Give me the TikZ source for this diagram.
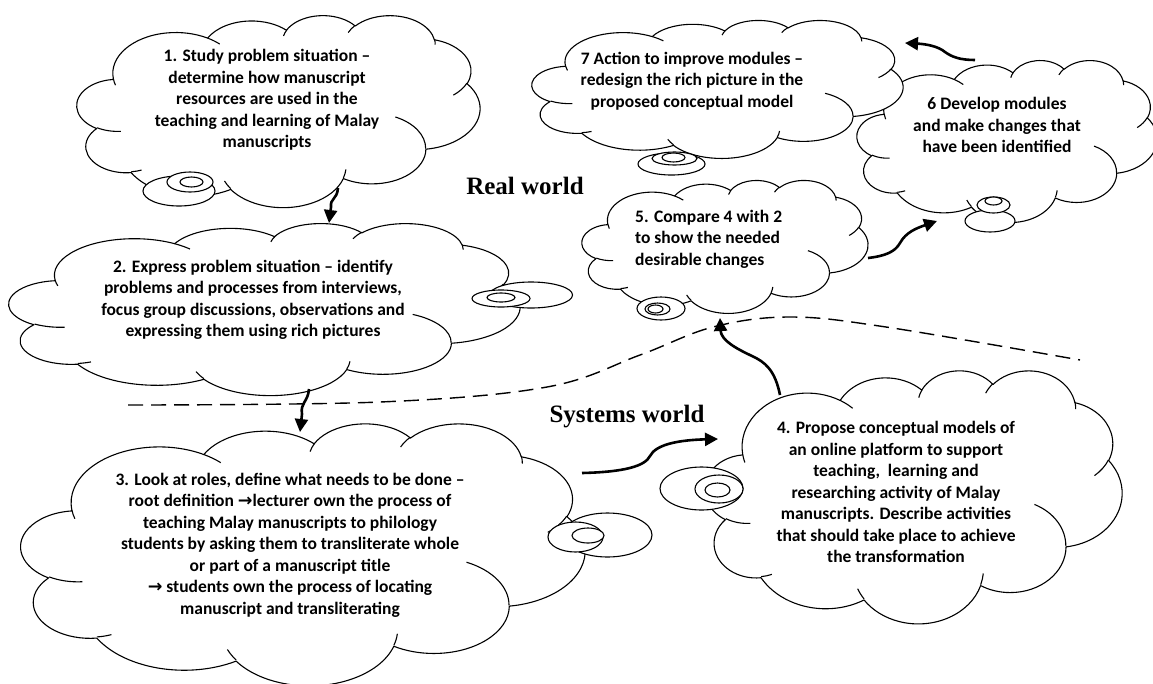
\documentclass[tikz,border=0pt]{standalone}
\usepackage{fontspec}
\setmainfont{Carlito}
\newfontfamily\labfont{Liberation Serif}
\newfontfamily\arrfont{DejaVu Sans}
\usetikzlibrary{arrows.meta}

\newcommand\cloudcalc[4]{%
  \pgfmathparse{atan2((#1)*sin(#3),(#2)*cos(#3))}\xdef\cldA{\pgfmathresult}%
  \pgfmathparse{atan2((#1)*sin(#3+#4),(#2)*cos(#3+#4))}\xdef\cldB{\pgfmathresult}%
  \pgfmathparse{\cldB-\cldA}\xdef\cldD{\pgfmathresult}%
  \pgfmathparse{\cldD<0 ? \cldD+360 : \cldD}\xdef\cldD{\pgfmathresult}}
\newcommand\carc[4]{\pgfextra{\cloudcalc{#1}{#2}{#3}{#4}} arc[start angle=\cldA, delta angle=\cldD, x radius=#1, y radius=#2]}
\newcommand\iarc[6]{\cloudcalc{#3}{#4}{#5}{#6}%
  \draw[innerline] (#1,#2) arc[start angle=\cldA, delta angle=\cldD, x radius=#3, y radius=#4];}

\newcommand\wcloud[4]{%
  \pgfmathsetmacro\cwx{#3/4320}%
  \pgfmathsetmacro\cwy{#4/4320}%
  \begin{scope}[shift={(#1,#2)},x=\cwx pt,y=-\cwy pt]
    \path[cloudline,fill=white] (390,1437)
      \carc{675.3}{919.0}{-190.4875}{123.7805}
      \carc{533.3}{726.7}{-144.1024}{89.9452}
      \carc{436.5}{594.5}{-145.8079}{99.7230}
      \carc{485.7}{659.5}{-130.9861}{117.2417}
      \carc{533.3}{727.3}{-78.7089}{109.0269}
      \carc{677.5}{922.0}{-46.2673}{130.2690}
      \carc{578.5}{786.7}{0.6250}{114.0333}
      \carc{675.2}{921.5}{22.4516}{115.1726}
      \carc{772.0}{1054.3}{66.2426}{75.7110}
      \carc{436.0}{591.8}{-274.9421}{146.7356}
      \carc{434.5}{594.5}{-246.8285}{152.5189}
      -- cycle;
    \iarc{469.3}{2617.7}{434.5}{594.5}{86.7420}{26.4295}
    \iarc{692.8}{3489.9}{436.0}{591.8}{73.6105}{11.4475}
    \iarc{1647.8}{3909.0}{675.2}{921.5}{137.6242}{14.0811}
    \iarc{2882.7}{3475.1}{675.2}{921.5}{6.4533}{15.9984}
    \iarc{3412.9}{2295.4}{578.5}{786.7}{-70.2924}{70.9174}
    \iarc{4179.8}{1535.4}{533.3}{727.3}{30.3180}{27.7515}
    \iarc{3832.4}{542.6}{485.7}{659.5}{-13.7443}{14.8589}
    \iarc{2907.8}{395.2}{485.7}{659.5}{-149.1815}{18.1954}
    \iarc{2214.1}{472.0}{436.5}{594.5}{-163.4943}{17.6864}
    \iarc{1400.0}{519.2}{675.3}{919.0}{-66.7070}{12.3194}
    \iarc{412.7}{1578.9}{675.3}{919.0}{157.6544}{11.8582}
  \end{scope}}

\begin{document}
\begin{tikzpicture}[x=1pt,y=-1pt,
  cloudline/.style={draw=black,line width=1.1pt,line join=round},
  innerline/.style={draw=black,line width=1.1pt},
  bub/.style={draw=black,line width=1.1pt,fill=white},
  flow/.style={draw=black,line width=2.6pt,-{Triangle[length=13pt,width=13pt]}},
  divider/.style={draw=black,line width=1.4pt,dash pattern=on 15pt off 8pt},
  txt/.style={font=\bfseries\fontsize{17.5}{21.5}\selectfont,align=center,inner sep=0pt},
  lab/.style={font=\labfont\bfseries\fontsize{25}{30}\selectfont,inner sep=0pt}]
\useasboundingbox (0,0) rectangle (1153,683);
\fill[white] (0,0) rectangle (1153,683);

% boundary between the worlds
\draw[divider] plot[smooth,tension=0.6] coordinates {(128,405) (380,402) (547,387) (640,355) (713,327) (790,317) (886,327) (1080,360)};

% cloud 6
\wcloud{857}{60}{300}{162}
\draw[bub] (990,221) ellipse [x radius=25,y radius=11];
\draw[bub] (993.5,205) ellipse [x radius=16.5,y radius=8];
\draw[bub] (993.5,201) ellipse [x radius=8.5,y radius=4];
% cloud 7
\wcloud{532}{20}{371}{138}
\draw[bub] (671.5,164) ellipse [x radius=33.5,y radius=11];
\draw[bub] (674.5,158.5) ellipse [x radius=22.5,y radius=6.5];
\draw[bub] (673.5,157.5) ellipse [x radius=11.5,y radius=4.5];
% cloud 1
\wcloud{77}{15}{403}{192}
\draw[bub] (179,191) ellipse [x radius=36,y radius=15];
\draw[bub] (190,182) ellipse [x radius=23,y radius=10];
\draw[bub] (191.5,182) ellipse [x radius=11.5,y radius=5];
% cloud 2
\wcloud{9}{223}{511}{172}
\draw[bub] (531,295) ellipse [x radius=41.5,y radius=13];
\draw[bub] (501,298.5) ellipse [x radius=29,y radius=8.5];
\draw[bub] (501,297.5) ellipse [x radius=14,y radius=4.5];
% cloud 3
\wcloud{21}{423}{564}{262}
\draw[bub] (607.5,535) ellipse [x radius=44.5,y radius=22];
\draw[bub] (575.5,537) ellipse [x radius=27.5,y radius=15];
\draw[bub] (588,535.5) ellipse [x radius=16,y radius=7.5];
% cloud 4
\wcloud{705}{370}{417}{253}
\draw[bub] (701.5,488.5) ellipse [x radius=41.5,y radius=21.5];
\draw[bub] (719,489) ellipse [x radius=24,y radius=14];
\draw[bub] (717.5,490) ellipse [x radius=12.5,y radius=7];
% cloud 5
\wcloud{582}{180}{286}{133}
\draw[bub] (661,308.5) ellipse [x radius=24,y radius=11.5];
\draw[bub] (657.5,309) ellipse [x radius=12.5,y radius=6];
\draw[bub] (655.5,309) ellipse [x radius=7.5,y radius=4];

% texts
\node[txt] (t1) at (267,100) {1. Study problem situation –\\determine how manuscript\\resources are used in the\\teaching and learning of Malay\\manuscripts};
\node[txt] (t2) at (253,300) {2. Express problem situation – identify\\problems and processes from interviews,\\focus group discussions, observations and\\expressing them using rich pictures};
\node[txt] (t3) at (290,545) {3. Look at roles, define what needs to be done –\\root definition {\arrfont\bfseries →}lecturer own the process of\\teaching Malay manuscripts to philology\\students by asking them to transliterate whole\\or part of a manuscript title\\{\arrfont\bfseries →} students own the process of locating\\manuscript and transliterating};
\node[txt] (t4) at (896,492) {4. Propose conceptual models of\\an online platform to support\\teaching,\ \ learning and\\researching activity of Malay\\manuscripts. Describe activities\\that should take place to achieve\\the transformation};
\node[txt,align=left,anchor=west] (t5) at (635,239) {5. Compare 4 with 2\\to show the needed\\desirable changes};
\node[txt] (t6) at (997,125) {6 Develop modules\\and make changes that\\have been identified};
\node[txt] (t7) at (692,81) {7 Action to improve modules –\\redesign the rich picture in the\\proposed conceptual model};
\node[lab,anchor=base] (rw) at (525,194) {Real world};
\node[lab,anchor=base] (sw) at (627,422) {Systems world};

% connectors
\coordinate (a1s) at (338,188); \coordinate (a1e) at (329,223);
\coordinate (a2s) at (309,389); \coordinate (a2e) at (300,432);
\coordinate (a3s) at (582,473); \coordinate (a3e) at (718,439);
\coordinate (a4s) at (780,395); \coordinate (a4e) at (720,318);
\coordinate (a5s) at (868,258); \coordinate (a5e) at (937,221);
\coordinate (a6s) at (975,60);  \coordinate (a6e) at (905,43);
\draw[flow] (a1s) .. controls (337,200) and (330,198) .. (331,207) -- (a1e);
\draw[flow] (a2s) .. controls (308,402) and (300,403) .. (302,414) -- (a2e);
\draw[flow] (a3s) .. controls (625,472) and (645,466) .. (650,456) .. controls (656,444) and (680,440) .. (a3e);
\draw[flow] (a4s) .. controls (775,370) and (765,362) .. (752,356) .. controls (735,348) and (721,340) .. (a4e);
\draw[flow] (a5s) .. controls (885,256) and (895,252) .. (900,243) .. controls (906,232) and (917,228) .. (a5e);
\draw[flow] (a6s) .. controls (960,60) and (952,57) .. (945,52) .. controls (938,46) and (925,44) .. (a6e);
\end{tikzpicture}
\end{document}
